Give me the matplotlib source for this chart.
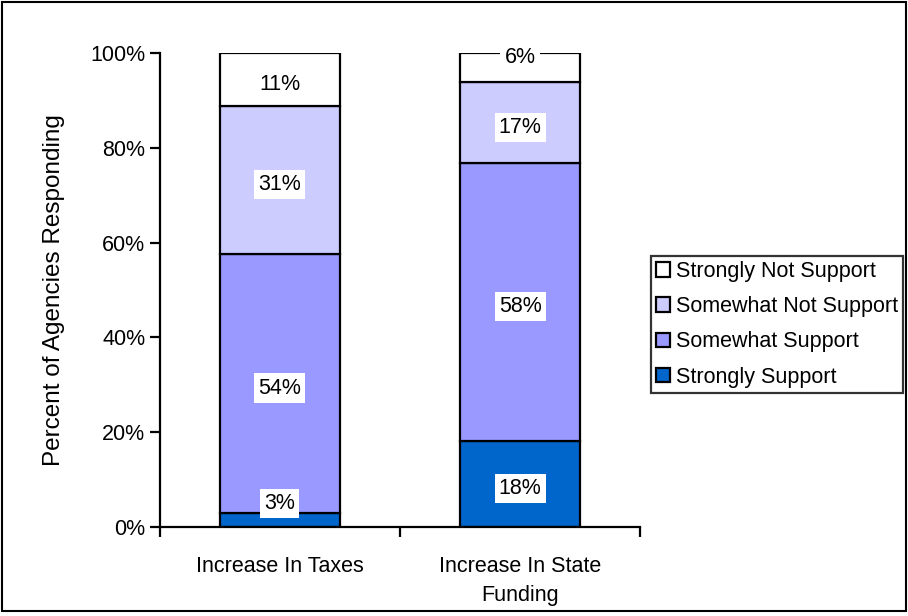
import matplotlib

matplotlib.use("Agg")
import matplotlib.pyplot as plt
import numpy as np
from matplotlib.patches import Rectangle

plt.rcParams["font.family"] = ["Liberation Sans", "DejaVu Sans"]

categories = ["Increase In Taxes", "Increase In State\nFunding"]
series = ["Strongly Support", "Somewhat Support", "Somewhat Not Support", "Strongly Not Support"]
strongly_support = [3, 18]
somewhat_support = [54, 58]
somewhat_not_support = [31, 17]
strongly_not_support = [11, 6]
colors = ["#0066CC", "#9999FF", "#CCCCFF", "#FFFFFF"]

FS = 15.5

values = np.array([strongly_support, somewhat_support,
                   somewhat_not_support, strongly_not_support], dtype=float)
# 100% stacked: each column scaled to its own total
shares = values / values.sum(axis=0) * 100

fig = plt.figure(figsize=(9.08, 6.16), dpi=100)
ax = fig.add_axes([0.176, 0.1445, 0.529, 0.7695])

x = np.arange(len(categories))
bottom = np.zeros(len(categories))
handles = []
for i, (name, col) in enumerate(zip(series, colors)):
    bars = ax.bar(x, shares[i], 0.5, bottom=bottom, color=col,
                  edgecolor="black", linewidth=1.6, label=name, zorder=2)
    handles.append(bars)
    for j in range(len(categories)):
        y = bottom[j] + shares[i][j] / 2 - 1.0
        # keep small segment labels clear of the axis and the bar top
        if shares[i][j] < 8:
            y = 5 if i == 0 else 99
        ax.text(x[j], y, f"{values[i][j]:.0f}%", ha="center", va="center",
                fontsize=FS, zorder=3,
                bbox=dict(facecolor="white", edgecolor="none", pad=3))
    bottom += shares[i]

ax.set_xlim(-0.5, 1.5)
ax.set_ylim(0, 100)
ax.set_yticks(np.arange(0, 101, 20))
ax.set_yticklabels([f"{v}%" for v in range(0, 101, 20)], fontsize=FS)
ax.set_xticks([-0.5, 0.5, 1.5], minor=False)
ax.set_xticklabels([])
ax.set_xticks(x, minor=True)
ax.set_xticklabels(categories, minor=True, fontsize=FS, linespacing=1.5)
ax.tick_params(axis="x", which="minor", length=0, pad=21)
ax.tick_params(axis="both", which="major", direction="out", length=7, width=1.6)
ax.set_ylabel("Percent of Agencies Responding", fontsize=17.5, labelpad=18)

for side in ("top", "right"):
    ax.spines[side].set_visible(False)
for side in ("left", "bottom"):
    ax.spines[side].set_linewidth(1.6)

leg = fig.legend(handles[::-1], series[::-1], loc="center left",
                 bbox_to_anchor=(0.717, 0.4735), fontsize=FS, frameon=True,
                 fancybox=False, edgecolor="black", handlelength=0.65,
                 handleheight=0.65, handletextpad=0.25, labelspacing=0.66,
                 borderpad=0.25, borderaxespad=0)
leg.get_frame().set_linewidth(1.6)

fig.patches.append(Rectangle((0.002, 0.008), 0.996, 0.989, transform=fig.transFigure,
                             fill=False, edgecolor="black", linewidth=1.5))

fig.savefig("out.png", dpi=100)
